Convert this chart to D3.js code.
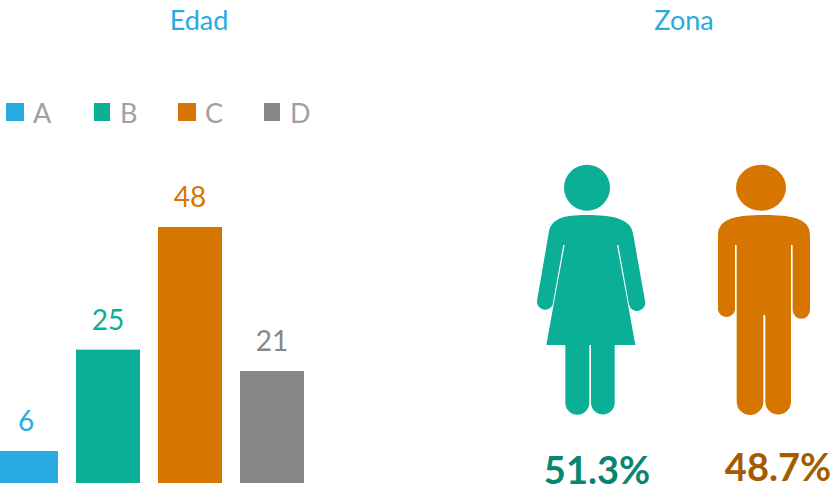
<!DOCTYPE html>
<html lang="en">
<head>
    <meta charset="UTF-8">
    <title>Edad y Zona</title>
    <script src="https://cdnjs.cloudflare.com/ajax/libs/d3/7.8.5/d3.min.js"></script>
    <style>
        body { margin: 0; background: #fff; }
        svg { display: block; font-family: Lato, sans-serif; }
    </style>
</head>
<body>
<script>
    // datos
    var categorias = ["A", "B", "C", "D"];
    var valores = [6, 25, 48, 21];
    var coloresEdad = ["#29ABE2", "#0BAF96", "#D67600", "#868686"];

    var zonas = ["Mujer", "Hombre"];
    var porcentajes = [51.3, 48.7];
    var coloresZona = ["#0BAF96", "#D67600"];
    var coloresTexto = ["#0A8570", "#A35D00"];

    var width = 836;
    var height = 492;

    // siluetas dibujadas a 3x, se reducen con scale(1/3)
    var siluetas = {
        Mujer: "M201,195 C130,195 92,205 86,250 L51,452 A24.5,24.5 0 0 0 98,464 L103,436 L130,285 L134,285 L106,436 L79,585 L136,585 L136,758 A36,36 0 0 0 208,758 L208,585 L213,585 L213,758 A35.5,35.5 0 0 0 284,758 L284,585 L346,585 L319,436 L291,285 L295,285 L322,436 L327,464 A24.5,24.5 0 0 0 375,452 L339,250 C333,205 272,195 201,195 Z",
        Hombre: "M192,195 C110,195 54,205 54,255 L54,480 A26,26 0 0 0 105,480 L105,285 L110,285 L110,755 A40,40 0 0 0 190,755 L190,495 L196,495 L196,755 A38.5,38.5 0 0 0 273,755 L273,285 L278,285 L278,480 A26,26 0 0 0 330,480 L330,255 C330,205 275,195 192,195 Z"
    };
    var cabezas = {
        Mujer: { cx: 201, cy: 113, rx: 69, ry: 69 },
        Hombre: { cx: 183, cy: 113, rx: 75, ry: 69 }
    };
    var origen = { Mujer: [520, 150], Hombre: [700, 150] };
    var etiquetaZona = { Mujer: [597, 484], Hombre: [778, 481] };
    var posLeyenda = [6, 94, 178, 264];

    var svg = d3.select("body").append("svg")
        .attr("width", width)
        .attr("height", height);

    // titulos
    svg.selectAll("text.titulo")
        .data([["Edad", 199], ["Zona", 684]])
        .enter().append("text")
        .attr("class", "titulo")
        .attr("x", function(d) { return d[1]; })
        .attr("y", 30)
        .attr("text-anchor", "middle")
        .attr("font-size", 27)
        .attr("fill", "#29ABE2")
        .text(function(d) { return d[0]; });

    // leyenda
    var leyenda = svg.selectAll("g.leyenda")
        .data(categorias)
        .enter().append("g")
        .attr("class", "leyenda")
        .attr("transform", function(d, i) { return "translate(" + posLeyenda[i] + ",103)"; });
    leyenda.append("rect")
        .attr("width", function(d, i) { return i % 2 ? 16 : 18; })
        .attr("height", 18)
        .attr("fill", function(d, i) { return coloresEdad[i]; });
    leyenda.append("text")
        .attr("x", function(d, i) { return i % 2 ? 26 : 27; })
        .attr("y", 20)
        .attr("font-size", 27)
        .attr("fill", "#A0A0A0")
        .text(function(d) { return d; });

    // barras
    var x = d3.scaleBand().domain(categorias).range([-15, 313]).paddingInner(18 / 82).paddingOuter(9 / 82);
    var y = d3.scaleLinear().domain([0, 48]).range([483, 227]);

    svg.selectAll("rect.barra")
        .data(valores)
        .enter().append("rect")
        .attr("class", "barra")
        .attr("x", function(d, i) { return x(categorias[i]); })
        .attr("y", function(d) { return y(d); })
        .attr("width", x.bandwidth())
        .attr("height", function(d) { return y(0) - y(d); })
        .attr("fill", function(d, i) { return coloresEdad[i]; });

    svg.selectAll("text.valor")
        .data(valores)
        .enter().append("text")
        .attr("class", "valor")
        .attr("x", function(d, i) { return x(categorias[i]) + x.bandwidth() / 2; })
        .attr("y", function(d) { return y(d) - 20; })
        .attr("text-anchor", "middle")
        .attr("font-size", 28)
        .attr("fill", function(d, i) { return coloresEdad[i]; })
        .text(function(d) { return d; });

    // figuras
    var figura = svg.selectAll("g.figura")
        .data(zonas)
        .enter().append("g")
        .attr("class", "figura")
        .attr("fill", function(d, i) { return coloresZona[i]; })
        .attr("transform", function(d) { return "translate(" + origen[d] + ") scale(" + (1 / 3) + ")"; });
    figura.append("ellipse")
        .attr("cx", function(d) { return cabezas[d].cx; })
        .attr("cy", function(d) { return cabezas[d].cy; })
        .attr("rx", function(d) { return cabezas[d].rx; })
        .attr("ry", function(d) { return cabezas[d].ry; });
    figura.append("path")
        .attr("d", function(d) { return siluetas[d]; });

    svg.selectAll("text.porcentaje")
        .data(porcentajes)
        .enter().append("text")
        .attr("class", "porcentaje")
        .attr("x", function(d, i) { return etiquetaZona[zonas[i]][0]; })
        .attr("y", function(d, i) { return etiquetaZona[zonas[i]][1]; })
        .attr("text-anchor", "middle")
        .attr("font-size", 38)
        .attr("font-weight", 700)
        .attr("fill", function(d, i) { return coloresTexto[i]; })
        .text(function(d) { return d.toFixed(1) + "%"; });
</script>
</body>
</html>
